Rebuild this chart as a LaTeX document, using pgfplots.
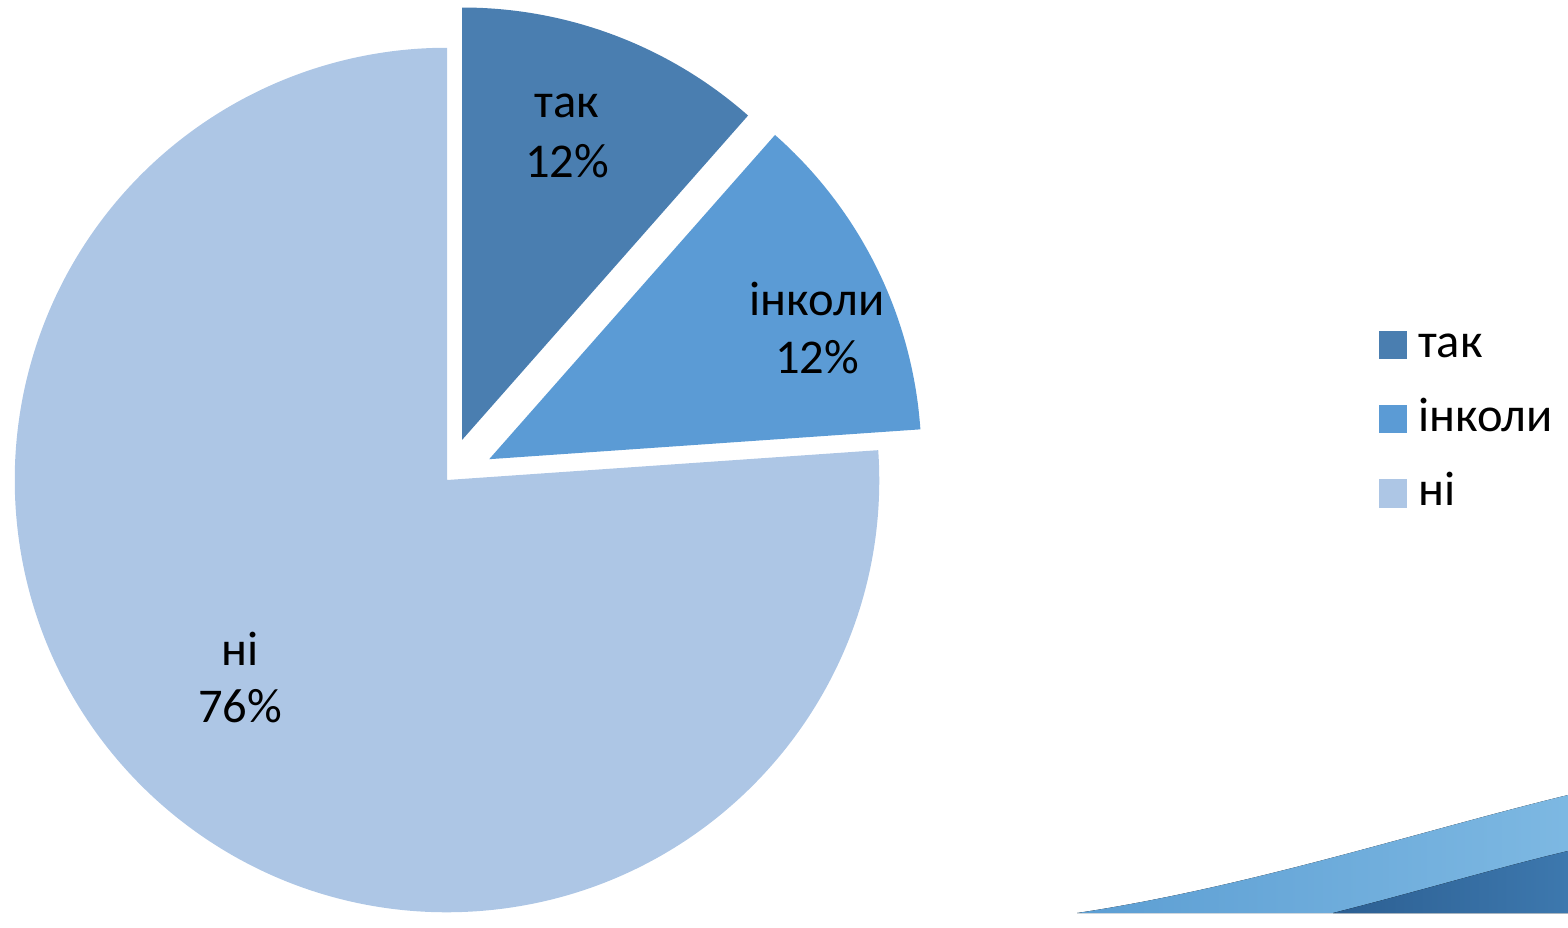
\documentclass[border=0pt]{standalone}
\usepackage{pgfplots}
\pgfplotsset{compat=1.18}
\usepackage{pgfplotstable}
\usepackage{fontspec}
\setmainfont{Carlito}
\usetikzlibrary{calc}
\definecolor{cTak}{HTML}{4A7EB0}
\definecolor{cInk}{HTML}{5B9BD5}
\definecolor{cNi}{HTML}{ADC6E5}
\definecolor{swA}{HTML}{5C9ED3}
\definecolor{swB}{HTML}{7DB8E2}
\definecolor{swC}{HTML}{2C5F92}
\definecolor{swD}{HTML}{3D78AE}

% share of answers, per cent, and how far each slice is pulled out (px)
\pgfplotstableread[col sep=comma]{
value,explode
11.5,43
12.4,47
76.1,0
}\piedata
\pgfplotstablegetelem{0}{value}\of\piedata\let\vA\pgfplotsretval
\pgfplotstablegetelem{1}{value}\of\piedata\let\vB\pgfplotsretval
\pgfplotstablegetelem{0}{explode}\of\piedata\let\eA\pgfplotsretval
\pgfplotstablegetelem{1}{explode}\of\piedata\let\eB\pgfplotsretval
\pgfmathsetmacro{\aA}{90-3.6*\vA}
\pgfmathsetmacro{\aB}{\aA-3.6*\vB}
\pgfmathsetmacro{\mA}{(90+\aA)/2}
\pgfmathsetmacro{\mB}{(\aA+\aB)/2}
\pgfmathsetmacro{\oA}{\eA/100}
\pgfmathsetmacro{\oB}{\eB/100}
\newcommand{\lf}{\fontsize{13.8}{17}\selectfont}

\begin{document}
\begin{tikzpicture}
\begin{axis}[
  x=0.01cm, y=0.01cm,
  xmin=0, xmax=1568, ymin=0, ymax=913,
  hide axis, clip=false,
  legend style={at={(axis cs:1378,586)}, anchor=north west, draw=none, fill=none,
    inner sep=0pt, row sep=0.34cm, font=\lf,
    nodes={inner sep=0pt, text height=0.3cm, text depth=0.1cm},
    /tikz/every odd column/.append style={column sep=0.11cm}},
  legend cell align=left,
]
\path (axis cs:0,0) rectangle (axis cs:1568,913);
% decorative swoosh
\fill[left color=swA, right color=swB] (axis cs:1077,0) .. controls (axis cs:1250,26) and (axis cs:1420,82) .. (axis cs:1568,118) -- (axis cs:1568,0) -- cycle;
\fill[left color=swC, right color=swD] (axis cs:1333,0) .. controls (axis cs:1420,22) and (axis cs:1500,46) .. (axis cs:1568,62) -- (axis cs:1568,0) -- cycle;
% pie
\fill[cNi] (axis cs:447,433) -- ++(\aB:4.32cm) arc[start angle=\aB, end angle=-270, radius=4.32cm] -- cycle;
\fill[cTak] ($(axis cs:447,433)+(\mA:\oA cm)$) -- ++(90:4.32cm) arc[start angle=90, end angle=\aA, radius=4.32cm] -- cycle;
\fill[cInk] ($(axis cs:447,433)+(\mB:\oB cm)$) -- ++(\aA:4.32cm) arc[start angle=\aA, end angle=\aB, radius=4.32cm] -- cycle;
% labels
\node[anchor=base, font=\lf, inner sep=0pt] at (axis cs:567,796) {так};
\node[anchor=base, font=\lf, inner sep=0pt] at (axis cs:567,736) {12\%};
\node[anchor=base, font=\lf, inner sep=0pt] at (axis cs:817,598) {інколи};
\node[anchor=base, font=\lf, inner sep=0pt] at (axis cs:817,540) {12\%};
\node[anchor=base, font=\lf, inner sep=0pt] at (axis cs:240,248) {ні};
\node[anchor=base, font=\lf, inner sep=0pt] at (axis cs:240,191) {76\%};
\addlegendimage{legend image code/.code={\fill[cTak] (0cm,-0.11cm) rectangle (0.27cm,0.16cm);}}
\addlegendentry{так}
\addlegendimage{legend image code/.code={\fill[cInk] (0cm,-0.11cm) rectangle (0.27cm,0.16cm);}}
\addlegendentry{інколи}
\addlegendimage{legend image code/.code={\fill[cNi] (0cm,-0.11cm) rectangle (0.27cm,0.16cm);}}
\addlegendentry{ні}
\end{axis}
\end{tikzpicture}
\end{document}
